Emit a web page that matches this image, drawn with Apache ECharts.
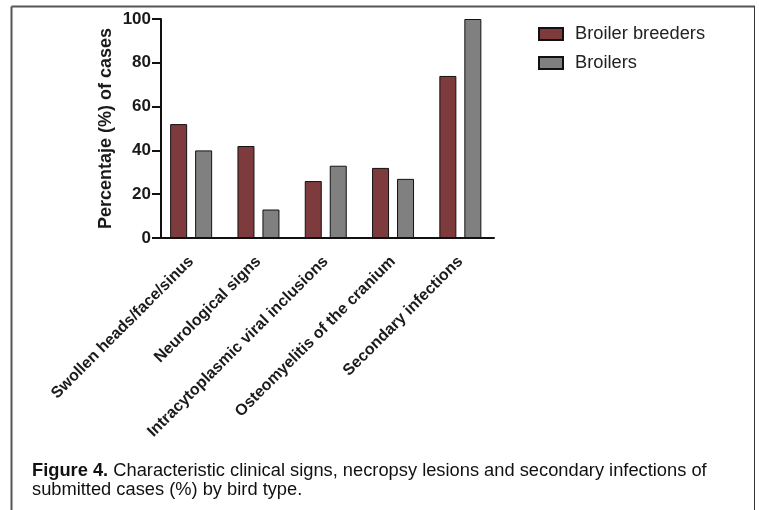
<!DOCTYPE html>
<html>
<head>
<meta charset="utf-8">
<script src="https://cdn.jsdelivr.net/npm/echarts@6/dist/echarts.min.js"></script>
<style>
html,body{margin:0;padding:0;background:#fff;}
#chart{width:759px;height:510px;}
</style>
</head>
<body>
<div id="chart"></div>
<script>
var categories = ['Swollen heads/face/sinus', 'Neurological signs', 'Intracytoplasmic viral inclusions', 'Osteomyelitis of the cranium', 'Secondary infections'];
var breeders = [52, 42, 26, 32, 74];
var broilers = [40, 13, 33, 27, 100];
var seriesNames = ['Broiler breeders', 'Broilers'];
var yTicks = { min: 0, max: 100, interval: 20 };
var yTitle = 'Percentaje (%) of cases';
var captionBold = 'Figure 4.';
var captionLine1 = ' Characteristic clinical signs, necropsy lesions and secondary infections of';
var captionLine2 = 'submitted cases (%) by bird type.';

var FONT = 'Liberation Sans, Arial, sans-serif';
var chart = echarts.init(document.getElementById('chart'), null, { renderer: 'canvas' });
chart.setOption({
  animation: false,
  backgroundColor: '#fff',
  grid: { left: 157.5, top: 19, width: 336.5, height: 219, containLabel: false },
  legend: {
    orient: 'vertical', left: 533, top: 20,
    itemWidth: 24, itemHeight: 12, itemGap: 11,
    icon: 'rect',
    textStyle: { fontFamily: FONT, fontSize: 18.3, color: '#222', padding: [0, 0, 0, 7] },
    data: seriesNames
  },
  xAxis: {
    type: 'category', data: categories,
    axisLine: { lineStyle: { color: '#111', width: 2 } },
    axisTick: { alignWithLabel: true, length: 8, lineStyle: { color: '#111', width: 2 } },
    axisLabel: { rotate: 45, margin: 21, interval: 0, fontFamily: FONT, fontSize: 16, fontWeight: 'bold', color: '#1a1a1a' }
  },
  yAxis: {
    type: 'value', min: yTicks.min, max: yTicks.max, interval: yTicks.interval,
    offset: -3.5,
    name: yTitle, nameLocation: 'middle', nameGap: 46,
    nameTextStyle: { fontFamily: FONT, fontSize: 18, fontWeight: 'bold', color: '#1a1a1a' },
    axisLine: { show: true, lineStyle: { color: '#111', width: 2 } },
    axisTick: { show: true, length: 9, lineStyle: { color: '#111', width: 2 } },
    axisLabel: { margin: 10, fontFamily: FONT, fontSize: 17, fontWeight: 'bold', color: '#1a1a1a' },
    splitLine: { show: false }
  },
  series: [
    { name: seriesNames[0], type: 'bar', data: breeders, barWidth: 17, barGap: '47%',
      itemStyle: { color: '#7e3b3d', borderColor: '#111', borderWidth: 1 } },
    { name: seriesNames[1], type: 'bar', data: broilers, barWidth: 17,
      itemStyle: { color: '#808080', borderColor: '#111', borderWidth: 1 } }
  ],
  graphic: [
    { type: 'line', shape: { x1: 11.5, y1: 6.5, x2: 755, y2: 6.5 }, style: { stroke: '#555', lineWidth: 2 } },
    { type: 'line', shape: { x1: 11.5, y1: 6.5, x2: 11.5, y2: 510 }, style: { stroke: '#555', lineWidth: 2 } },
    { type: 'line', shape: { x1: 754.5, y1: 6.5, x2: 754.5, y2: 510 }, style: { stroke: '#333', lineWidth: 1 } },
    { type: 'text', left: 32, top: 462,
      style: { text: '{b|' + captionBold + '}{r|' + captionLine1 + '}\n{r|' + captionLine2 + '}',
        rich: {
          b: { fontFamily: FONT, fontSize: 18.3, fontWeight: 'bold', fill: '#111', lineHeight: 19 },
          r: { fontFamily: FONT, fontSize: 18.3, fill: '#111', lineHeight: 19 }
        } } }
  ]
});
</script>
</body>
</html>
